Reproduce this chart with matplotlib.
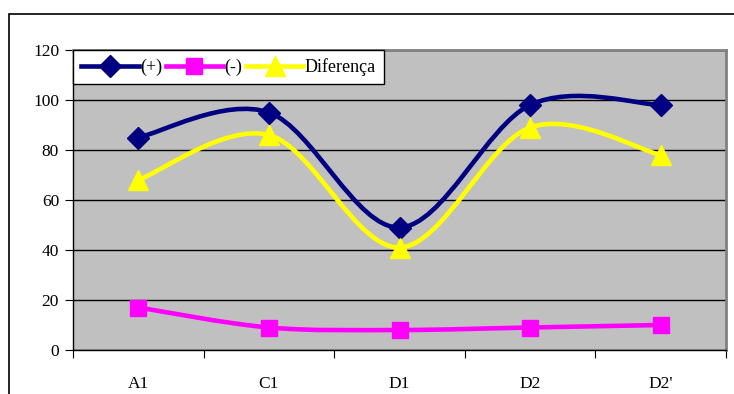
import matplotlib
matplotlib.use("Agg")
import matplotlib.pyplot as plt
from matplotlib.path import Path
from matplotlib.patches import PathPatch, Rectangle
from matplotlib.lines import Line2D

# =============================================================================
#  Données
# =============================================================================
categories = ["A1", "C1", "D1", "D2", "D2'"]
plus = [85, 95, 49, 98, 98]
minus = [17, 9, 8, 9, 10]
diferenca = [68, 86, 41, 89, 78]

plt.rcParams["font.family"] = ["Liberation Serif", "DejaVu Serif"]
plt.rcParams["font.size"] = 12.5


def smooth_path(xs, ys):
    """Courbe lissée façon Excel (Bézier passant par les points)."""
    pts = list(zip(xs, ys))
    n = len(pts)
    verts = [pts[0]]
    codes = [Path.MOVETO]
    for i in range(n - 1):
        p0 = pts[i - 1] if i > 0 else pts[i]
        p1 = pts[i]
        p2 = pts[i + 1]
        p3 = pts[i + 2] if i + 2 < n else pts[i + 1]
        c1 = (p1[0] + (p2[0] - p0[0]) / 6, p1[1] + (p2[1] - p0[1]) / 6)
        c2 = (p2[0] - (p3[0] - p1[0]) / 6, p2[1] - (p3[1] - p1[1]) / 6)
        verts += [c1, c2, p2]
        codes += [Path.CURVE4] * 3
    return Path(verts, codes)


fig = plt.figure(figsize=(7.34, 3.94), dpi=100)
ax = fig.add_axes([73 / 734, 44 / 394, 653 / 734, 300 / 394])
ax.set_facecolor("#C0C0C0")

series = [
    ("(+)", plus, "#000080", "D", 11),
    ("(-)", minus, "#FF00FF", "s", 11),
    ("Diferença", diferenca, "#FFFF00", "^", 14),
]

x = list(range(len(categories)))
handles = []
for label, vals, color, marker, ms in series:
    patch = PathPatch(smooth_path(x, vals), facecolor="none", edgecolor=color,
                      linewidth=3.3, zorder=3, capstyle="round")
    ax.add_patch(patch)
    ax.plot(x, vals, linestyle="none", marker=marker, markersize=ms,
            color=color, markeredgecolor=color, zorder=4, clip_on=False)
    handles.append(Line2D([], [], color=color, linewidth=3.3, marker=marker,
                          markersize=ms, markeredgecolor=color))

ax.set_xlim(-0.5, len(categories) - 0.5)
ax.set_ylim(0, 120)
ax.set_yticks(range(0, 121, 20))
ax.yaxis.grid(True, color="black", linewidth=1)
ax.set_axisbelow(True)

ax.set_xticks([i - 0.5 for i in range(len(categories) + 1)])
ax.set_xticklabels([])
ax.set_xticks(x, minor=True)
ax.set_xticklabels(categories, minor=True)
ax.tick_params(axis="x", which="major", direction="out", length=6, color="black")
ax.tick_params(axis="x", which="minor", length=0, pad=19)
ax.tick_params(axis="y", direction="out", length=6, pad=4)

for side in ["top", "right"]:
    ax.spines[side].set_color("#808080")
    ax.spines[side].set_linewidth(2)
for side in ["left", "bottom"]:
    ax.spines[side].set_color("black")
    ax.spines[side].set_linewidth(1)

leg = ax.legend(handles, [s[0] for s in series], loc="upper left", ncol=3,
                bbox_to_anchor=(0, 1), borderaxespad=0, frameon=True,
                fancybox=False, edgecolor="black", framealpha=1,
                fontsize=13, handlelength=3.2, handletextpad=0.05,
                columnspacing=0.2, borderpad=0.45, numpoints=1)
leg.get_frame().set_linewidth(1)

# Cadre extérieur du graphique (coupé par l'image)
fig.add_artist(Rectangle((9 / 734, -0.1), 1.0, (394 - 14) / 394 + 0.1,
                         transform=fig.transFigure, fill=False,
                         edgecolor="black", linewidth=1.2))

plt.savefig("out.png", dpi=100)
